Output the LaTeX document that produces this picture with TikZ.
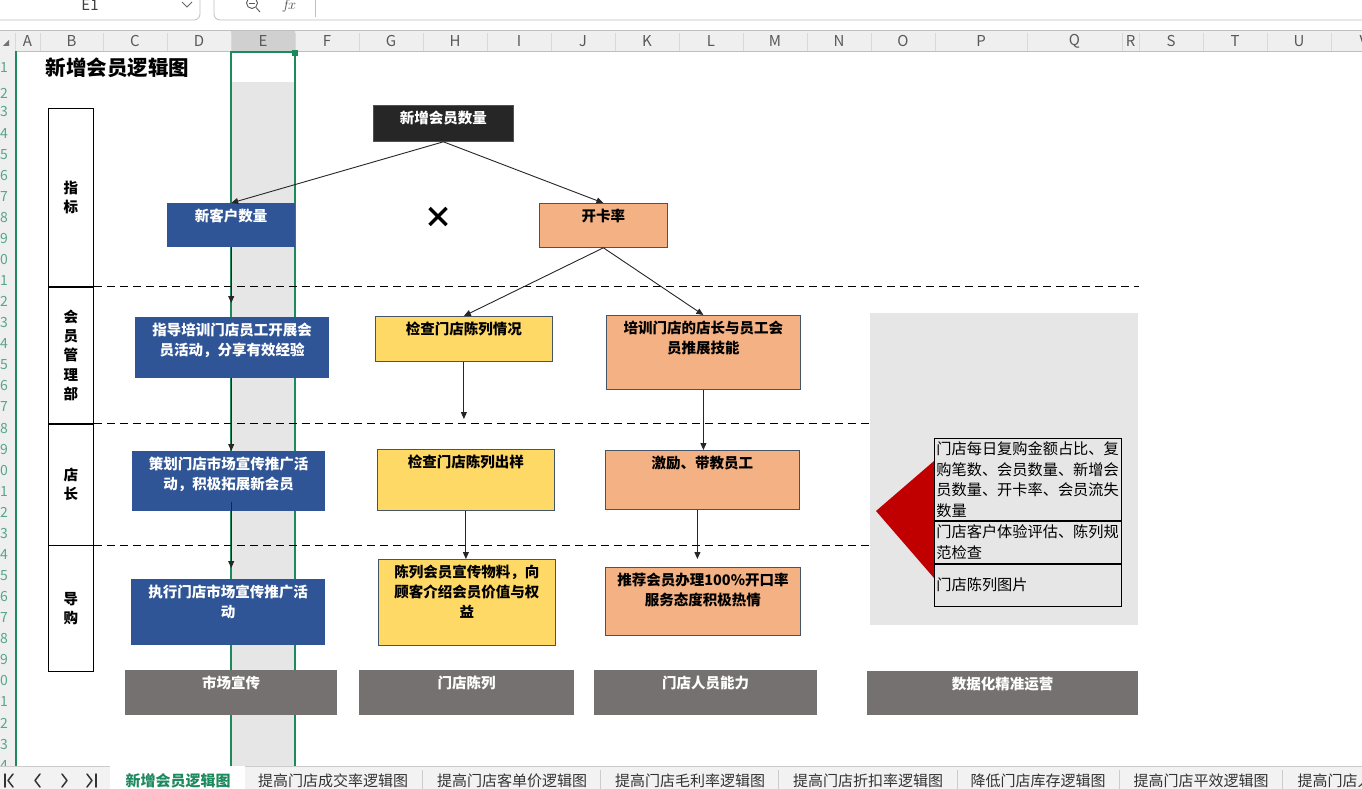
\documentclass[tikz,border=0pt]{standalone}
\usepackage{fontspec}
\setmainfont{Noto Sans CJK SC}
\usetikzlibrary{arrows.meta,positioning}
\definecolor{boxblue}{RGB}{47,85,151}
\definecolor{boxsalmon}{RGB}{244,177,131}
\definecolor{boxyellow}{RGB}{255,217,102}
\definecolor{boxdark}{RGB}{38,38,38}
\definecolor{boxedge}{RGB}{68,84,106}
\definecolor{bargray}{RGB}{118,113,113}
\definecolor{panelgray}{RGB}{231,230,230}
\definecolor{alarmred}{RGB}{192,0,0}
\definecolor{selgreen}{RGB}{29,138,94}
\definecolor{selgray}{RGB}{230,230,230}
\definecolor{headgray}{RGB}{239,239,239}
\definecolor{headdark}{RGB}{208,208,208}
\definecolor{tabtext}{RGB}{51,51,51}

% top aligned text inside a fixed size cell
\newcommand{\celltext}[3]{\parbox[c][#2pt][t]{#1pt}{\centering\rule{0pt}{18.5pt}#3}}
\newcommand{\listtext}[3]{\parbox[c][#2pt][t]{#1pt}{\raggedright\leftskip=2pt\rule{0pt}{16.5pt}#3}}

\tikzset{
  cellbox/.style={anchor=north west, inner sep=0pt, font=\bfseries\fontsize{14.5}{20}\selectfont},
  bluebox/.style={cellbox, fill=boxblue, text=white},
  salmonbox/.style={cellbox, fill=boxsalmon, draw=boxedge, line width=0.8pt},
  yellowbox/.style={cellbox, fill=boxyellow, draw=boxedge, line width=0.8pt},
  darkbox/.style={cellbox, fill=boxdark, draw=boxedge, line width=0.8pt, text=white},
  barbox/.style={cellbox, fill=bargray, text=white},
  lanecell/.style={anchor=north west, draw, line width=0.8pt, inner sep=0pt, minimum width=45pt,
    align=center, font=\bfseries\fontsize{14.5}{19.3}\selectfont},
  listcell/.style={anchor=north west, draw, line width=0.8pt, inner sep=0pt,
    font=\fontsize{15.2}{20.5}\selectfont},
  flow/.style={->, line width=0.9pt, draw=black!85},
  laneline/.style={dashed, dash pattern=on 8pt off 5pt, line width=0.8pt},
  colhead/.style={font=\fontsize{15}{15}\selectfont, text=black!65},
  rowhead/.style={font=\fontsize{14}{14}\selectfont, text=selgreen!75},
  tablabel/.style={font=\fontsize{15}{15}\selectfont, text=tabtext},
  navarrow/.style={line width=1.5pt, draw=black!80, line cap=round, line join=round}
}

\begin{document}
\begin{tikzpicture}[x=1pt, y=-1pt, >={Triangle[length=7pt,width=6pt]}]
    \useasboundingbox (0,0) rectangle (1362,789);
    \clip (0,0) rectangle (1362,789);
    \fill[white] (0,0) rectangle (1362,789);

    % name box and formula bar
    \draw[black!25, line width=0.8pt, rounded corners=6pt] (-10,-10) rectangle (200,20);
    \node[font=\fontsize{15}{15}\selectfont, text=black!75] (namebox) at (90,5) {E1};
    \draw[black!60, line width=0.8pt] (182,2) -- (187,7) -- (192,2);
    \draw[black!25, line width=0.8pt, rounded corners=6pt] (214,-10) rectangle (1400,20);
    \draw[black!65, line width=0.9pt] (252,3) circle (5.5pt);
    \draw[black!65, line width=0.9pt] (249,3) -- (255,3);
    \draw[black!65, line width=0.9pt] (256,7.5) -- (260,12);
    \node[text=black!70, font=\fontsize{15}{15}\selectfont] (fxsign) at (289,6) {$f\!x$};
    \draw[black!25, line width=0.8pt] (315,-5) -- (315,17);

    % column header row
    \fill[headgray] (0,30) rectangle (1362,51);
    \fill[headdark] (231,30) rectangle (295,51);
    \draw[black!25, line width=0.8pt] (0,30) -- (1362,30);
    \draw[black!25, line width=0.8pt] (0,51) -- (1362,51);
    \fill[black!55] (3,46) -- (9,46) -- (9,40) -- cycle;
    \foreach \x in {15,40,103,167,231,295,359,423,487,551,615,679,743,807,871,935,1027,1122,1139,1203,1267,1331}
        \draw[black!15, line width=0.6pt] (\x,33) -- (\x,51);
    \foreach \l/\x in {A/27.5,B/71.5,C/135,D/199,E/263,F/327,G/391,H/455,I/519,J/583,K/647,L/711,M/775,N/839,O/903,P/981,Q/1074.5,R/1130.5,S/1171,T/1235,U/1299,V/1364}
        \node[colhead] (col\l) at (\x,41) {\l};

    % row header column
    \fill[headgray] (0,51) rectangle (15,766);
    \draw[selgreen, line width=1.5pt] (16,51) -- (16,766);
    \node[rowhead] (row1) at (4,68) {1};
    \node[rowhead] (row2) at (4,93) {2};
    \foreach \n in {3,...,34} {
        \pgfmathtruncatemacro{\d}{mod(\n,10)}
        \node[rowhead] (row\n) at (4,{112+(\n-3)*21.07}) {\d};
    }

    % selected column E
    \fill[selgray] (232,82) rectangle (294,766);
    \draw[selgreen, line width=2.4pt] (231,766) -- (231,52) -- (295,52) -- (295,766);
    \fill[selgreen] (291.5,50.5) rectangle (297.5,56.5);

    % title
    \node[anchor=west, font=\bfseries\fontsize{20.5}{24}\selectfont] (title) at (42,68) {新增会员逻辑图};

    % lanes
    \node[lanecell, minimum height=178pt] (lane1) at (48,108) {指\\标};
    \node[lanecell, minimum height=136pt] (lane2) at (lane1.south west) {会\\员\\管\\理\\部};
    \node[lanecell, minimum height=121pt] (lane3) at (lane2.south west) {店\\长};
    \node[lanecell, minimum height=126pt] (lane4) at (lane3.south west) {导\\购};

    % data panel
    \fill[panelgray] (870,313) rectangle (1138,625);
    \fill[alarmred] (876,511) -- (934,461) -- (934,578) -- cycle;
    \node[listcell] (metric1) at (934,438) {\listtext{187}{82}{门店每日复购金额占比、复\\购笔数、会员数量、新增会\\员数量、开卡率、会员流失\\数量}};
    \node[listcell] (metric2) at (metric1.south west) {\listtext{187}{42}{门店客户体验评估、陈列规\\范检查}};
    \node[listcell] (metric3) at (metric2.south west) {\parbox[c][42pt][c]{187pt}{\hspace*{2pt}门店陈列图片}};

    % dashed lane separators
    \draw[laneline] (lane2.north east) -- ++(1045,0);
    \draw[laneline] (lane3.north east) -- ++(777,0);
    \draw[laneline] (lane4.north east) -- ++(777,0);

    % boxes
    \node[darkbox] (newmem) at (373,105) {\celltext{140}{36}{新增会员数量}};
    \node[bluebox] (newcust) at (167,203) {\celltext{128}{44}{新客户数量}};
    \node[salmonbox] (cardrate) at (539,203) {\celltext{128}{44}{开卡率}};
    \draw[line width=3.3pt] (429.5,208) -- (446.5,225);
    \draw[line width=3.3pt] (446.5,208) -- (429.5,225);

    \node[bluebox] (guide) at (135,317) {\celltext{194}{61}{指导培训门店员工开展会\\员活动，分享有效经验}};
    \node[bluebox] (plan) at (132,451) {\celltext{193}{60}{策划门店市场宣传推广活\\动，积极拓展新会员}};
    \node[bluebox] (execute) at (131,579) {\celltext{194}{66}{执行门店市场宣传推广活\\动}};

    \node[yellowbox] (checkshow) at (375,316) {\celltext{177}{45}{检查门店陈列情况}};
    \node[yellowbox] (checksample) at (377,449) {\celltext{177}{61}{检查门店陈列出样}};
    \node[yellowbox] (display) at (378,559) {\celltext{177}{86}{陈列会员宣传物料，向\\顾客介绍会员价值与权\\益}};

    \node[salmonbox] (train) at (606,315) {\celltext{194}{74}{培训门店的店长与员工会\\员推展技能}};
    \node[salmonbox] (coach) at (605,450) {\celltext{194}{59}{激励、带教员工}};
    \node[salmonbox] (recommend) at (605,567) {\celltext{195}{68}{推荐会员办理100\%开口率\\服务态度积极热情}};

    % category bars
    \node[barbox] (market) at (125,670) {\celltext{212}{45}{市场宣传}};
    \node[barbox] (showcase) at (359,670) {\celltext{215}{45}{门店陈列}};
    \node[barbox] (staff) at (594,670) {\celltext{223}{45}{门店人员能力}};
    \node[barbox] (digital) at (867,671) {\celltext{271}{44}{数据化精准运营}};

    % connectors
    \draw[flow] (newmem.south) -- (newcust.north);
    \draw[flow] (newmem.south) -- (cardrate.north);
    \draw[flow] (cardrate.south) -- (checkshow.north);
    \draw[flow] (cardrate.south) -- (train.north);
    \draw[flow, shorten >=14pt] (newcust.south) -- (newcust.south |- guide.north);
    \draw[flow] (newcust.south |- guide.south) -- (newcust.south |- plan.north);
    \draw[flow, shorten >=11pt] ([yshift=9pt]newcust.south |- plan.south) -- (newcust.south |- execute.north);
    \draw[flow, shorten >=30pt] (checkshow.south) -- (checkshow.south |- checksample.north);
    \draw[flow] (checksample.south) -- (checksample.south |- display.north);
    \draw[flow] (train.south) -- (train.south |- coach.north);
    \draw[flow, shorten >=8pt] ([xshift=-5pt]coach.south) -- ([xshift=-5pt]coach.south |- recommend.north);

    % sheet tabs
    \fill[black!5] (0,766) rectangle (1362,789);
    \draw[black!20, line width=0.8pt] (0,766) -- (1362,766);
    \fill[white] (110,766) rectangle (245,789);
    \draw[navarrow] (5,774) -- (5,787);
    \draw[navarrow] (13,774) -- (8,780.5) -- (13,787);
    \draw[navarrow] (40,774) -- (35,780.5) -- (40,787);
    \draw[navarrow] (62,774) -- (67,780.5) -- (62,787);
    \draw[navarrow] (87,774) -- (92,780.5) -- (87,787);
    \draw[navarrow] (96,774) -- (96,787);
    \foreach \x in {422,600,778,957,1119,1282}
        \draw[black!20, line width=0.8pt] (\x,770) -- (\x,789);
    \node[tablabel, text=selgreen, font=\bfseries\fontsize{15}{15}\selectfont] (tab1) at (178,781) {新增会员逻辑图};
    \node[tablabel] (tab2) at (333,781) {提高门店成交率逻辑图};
    \node[tablabel] (tab3) at (512,781) {提高门店客单价逻辑图};
    \node[tablabel] (tab4) at (690,781) {提高门店毛利率逻辑图};
    \node[tablabel] (tab5) at (868,781) {提高门店折扣率逻辑图};
    \node[tablabel] (tab6) at (1038,781) {降低门店库存逻辑图};
    \node[tablabel] (tab7) at (1201,781) {提高门店平效逻辑图};
    \node[tablabel, anchor=west] (tab8) at (1294,781) {提高门店人};
\end{tikzpicture}
\end{document}
